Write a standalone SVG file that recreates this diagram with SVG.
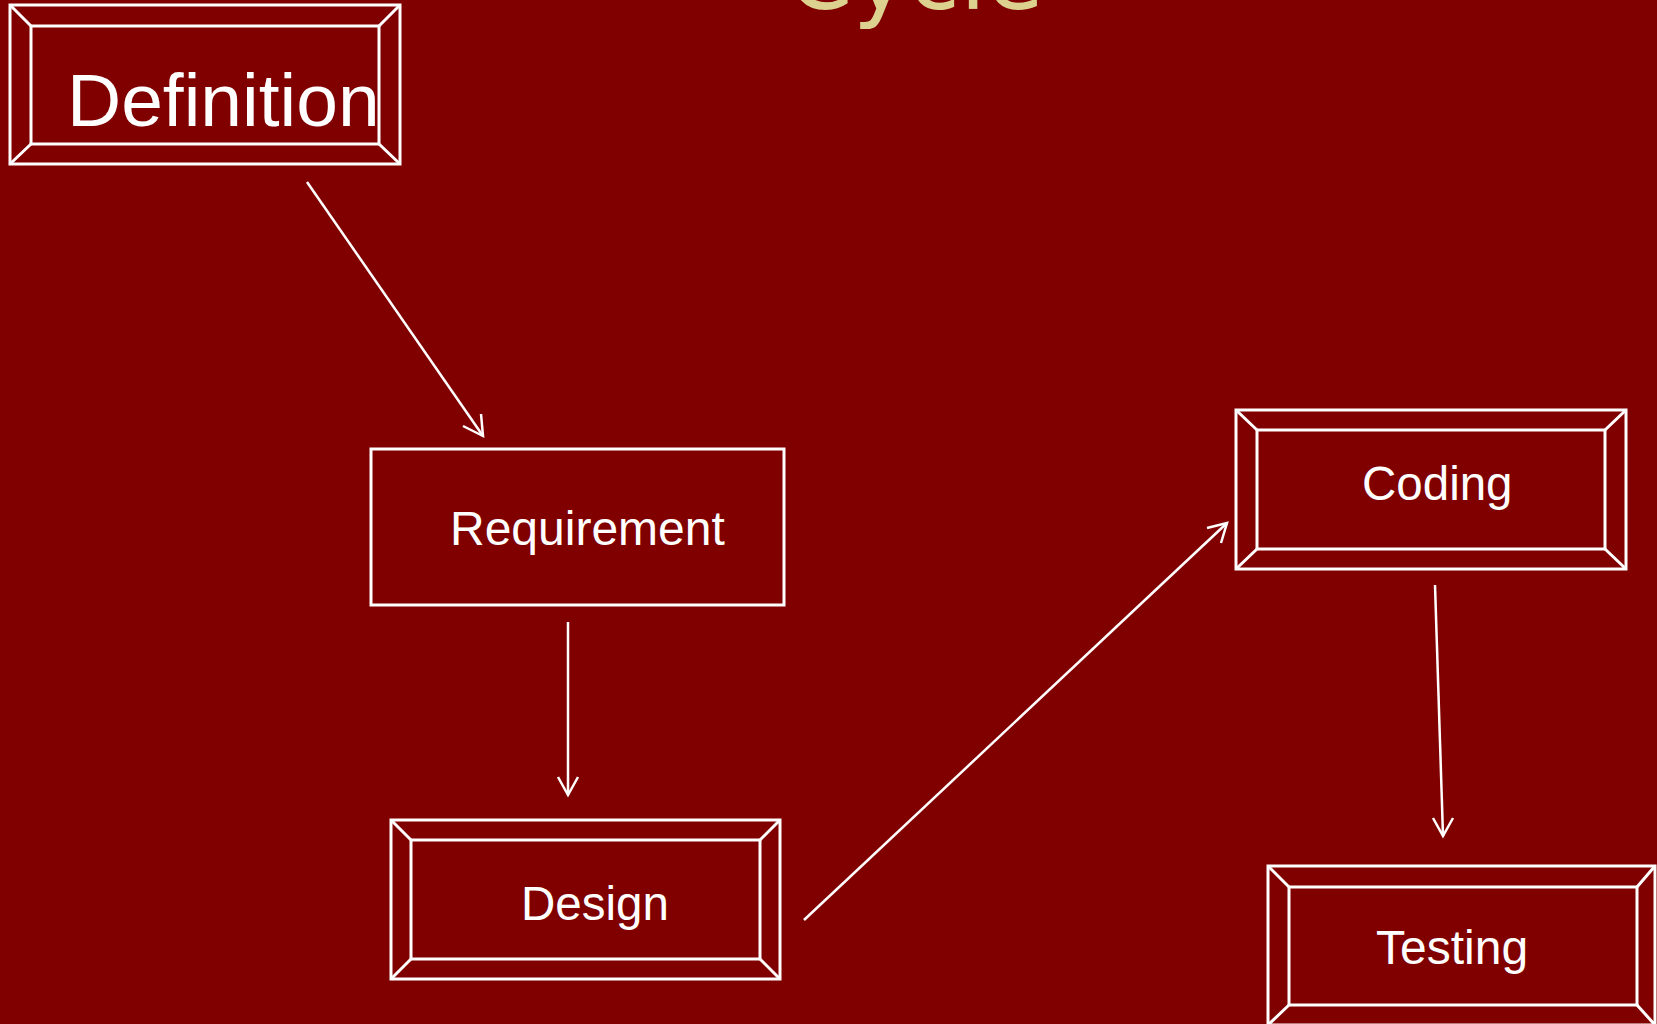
<svg xmlns="http://www.w3.org/2000/svg" width="1657" height="1024" viewBox="0 0 1657 1024">
  <defs>
    <style>
      .frame { fill: none; stroke: #ffffff; stroke-width: 3; stroke-linejoin: miter; }
      .label { fill: #ffffff; font-family: "Liberation Sans", Arial, sans-serif; }
      .conn { stroke: #ffffff; stroke-width: 2.5; fill: none; }
      .head { stroke: #ffffff; stroke-width: 2.5; fill: none; stroke-linecap: butt; }
      .title { fill: #DDD18F; font-family: "DejaVu Sans", Verdana, sans-serif; font-size: 94px; }
    </style>
  </defs>

  <!-- slide background -->
  <rect x="0" y="0" width="1657" height="1024" fill="#800000"/>

  <!-- heading, mostly above the visible area -->
  <text class="title" x="787" y="9">Cycle</text>

  <!-- Definition: bevelled frame -->
  <g id="definition">
    <rect class="frame" x="10" y="5" width="390" height="159"/>
    <rect class="frame" x="31" y="26" width="348" height="118"/>
    <path class="frame" d="M10 5 L31 26 M400 5 L379 26 M10 164 L31 144 M400 164 L379 144"/>
    <text class="label" x="67" y="126" font-size="75">Definition</text>
  </g>

  <!-- Requirement: plain frame -->
  <g id="requirement">
    <rect class="frame" x="371" y="449" width="413" height="156"/>
    <text class="label" x="450" y="545" font-size="48">Requirement</text>
  </g>

  <!-- Design: bevelled frame -->
  <g id="design">
    <rect class="frame" x="391" y="820" width="389" height="159"/>
    <rect class="frame" x="411" y="840" width="349" height="119"/>
    <path class="frame" d="M391 820 L411 840 M780 820 L760 840 M391 979 L411 959 M780 979 L760 959"/>
    <text class="label" x="521" y="920" font-size="47.5">Design</text>
  </g>

  <!-- Coding: bevelled frame -->
  <g id="coding">
    <rect class="frame" x="1236" y="410" width="390" height="159"/>
    <rect class="frame" x="1257" y="430" width="348" height="119"/>
    <path class="frame" d="M1236 410 L1257 430 M1626 410 L1605 430 M1236 569 L1257 549 M1626 569 L1605 549"/>
    <text class="label" x="1362" y="500" font-size="47.5">Coding</text>
  </g>

  <!-- Testing: bevelled frame, runs off the bottom edge -->
  <g id="testing">
    <rect class="frame" x="1268" y="866" width="387" height="159"/>
    <rect class="frame" x="1289" y="887" width="348" height="118"/>
    <path class="frame" d="M1268 866 L1289 887 M1655 866 L1637 887 M1268 1025 L1289 1005 M1655 1025 L1637 1005"/>
    <text class="label" x="1376" y="964" font-size="48">Testing</text>
  </g>

  <!-- connectors with open arrowheads -->
  <g id="connectors">
    <line class="conn" x1="307" y1="182" x2="483" y2="436"/>
    <path class="head" d="M463 426 L483 436 L481 414"/>

    <line class="conn" x1="568" y1="622" x2="568" y2="795"/>
    <path class="head" d="M558 777 L568 795 L578 777"/>

    <line class="conn" x1="804" y1="920" x2="1227" y2="523"/>
    <path class="head" d="M1207 528 L1227 523 L1221 543"/>

    <line class="conn" x1="1435" y1="585" x2="1443" y2="836"/>
    <path class="head" d="M1433 818 L1443 836 L1453 818"/>
  </g>
</svg>
